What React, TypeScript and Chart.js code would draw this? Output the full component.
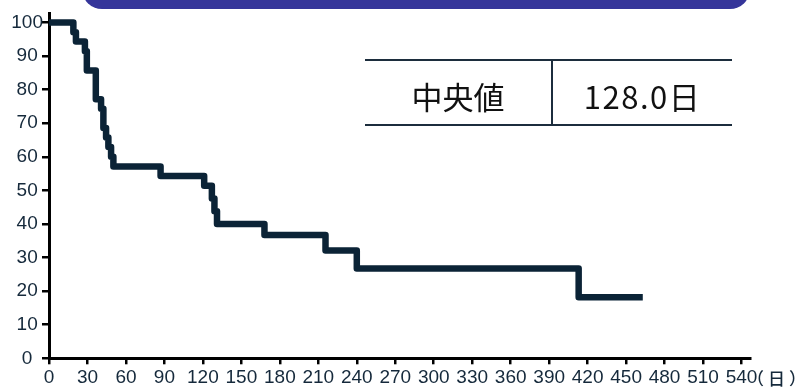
import React, { useEffect, useRef } from "react";
import { Chart, registerables } from "chart.js";

Chart.register(...registerables);

// Kaplan-Meier step data (days, survival %)
const days = [0, 19, 21, 28, 29.5, 36.5, 40.6, 42.4, 44.5, 46.3, 48.4, 50.2, 87, 121, 127, 129, 131, 168, 215.6, 240, 413, 463];
const survival = [100, 97.1, 94.3, 91.4, 85.7, 77.1, 74.3, 68.6, 65.7, 62.9, 60.0, 57.1, 54.3, 51.4, 47.6, 43.8, 40.0, 36.7, 32.1, 26.7, 18.2, 18.2];
const xTicks = [0, 30, 60, 90, 120, 150, 180, 210, 240, 270, 300, 330, 360, 390, 420, 450, 480, 510, 540];
const yTicks = [0, 10, 20, 30, 40, 50, 60, 70, 80, 90, 100];
const xUnit = "（日）";
const medianLabel = "中央値";
const medianValue = "128.0日";

const LINE = "#0b2336";
const TEXT = "#15293b";
const TICK_FONT = { family: "'Liberation Sans Narrow', 'Liberation Sans', sans-serif", size: 19 };

export default function App() {
  const ref = useRef<HTMLCanvasElement | null>(null);

  useEffect(() => {
    if (!ref.current) return;
    const chart = new Chart(ref.current, {
      type: "line",
      data: {
        datasets: [
          {
            data: days.map((d, i) => ({ x: d, y: survival[i] })),
            stepped: "before",
            borderColor: LINE,
            borderWidth: 6.5,
            borderJoinStyle: "round",
            pointRadius: 0,
            fill: false,
          },
        ],
      },
      options: {
        responsive: false,
        animation: false,
        layout: { padding: { top: 13, right: 51, left: 0, bottom: 0 } },
        plugins: { legend: { display: false }, tooltip: { enabled: false } },
        scales: {
          x: {
            type: "linear",
            min: 0,
            max: 546.6,
            afterBuildTicks: (axis: any) => {
              axis.ticks = xTicks.map((v) => ({ value: v }));
            },
            afterFit: (s: any) => {
              s.height = 29.7;
            },
            grid: { display: true, drawOnChartArea: false, drawTicks: true, tickLength: 6, color: "#000", lineWidth: 2.5 },
            border: { display: true, color: "#000", width: 3 },
            ticks: { autoSkip: false, maxRotation: 0, padding: 2, color: TEXT, font: TICK_FONT },
          },
          y: {
            min: 0,
            max: 102.8,
            afterBuildTicks: (axis: any) => {
              axis.ticks = yTicks.map((v) => ({ value: v }));
            },
            afterFit: (s: any) => {
              s.width = 49;
            },
            grid: { display: true, drawOnChartArea: false, drawTicks: true, tickLength: 7, color: "#000", lineWidth: 2.5 },
            border: { display: true, color: "#000", width: 3 },
            ticks: { crossAlign: "center", padding: -1, color: TEXT, font: TICK_FONT },
          },
        },
      },
    });
    return () => chart.destroy();
  }, []);

  const cell: React.CSSProperties = {
    position: "absolute",
    top: 64,
    height: 63,
    display: "flex",
    alignItems: "center",
    justifyContent: "center",
    fontFamily: "'Noto Sans CJK JP', sans-serif",
    fontSize: 31,
    fontWeight: 400,
    color: "#111",
    whiteSpace: "nowrap",
  };

  return (
    <div style={{ position: "fixed", left: 0, top: 0, width: 801, height: 388, overflow: "hidden", background: "#fff" }}>
      <div
        style={{
          position: "absolute",
          left: 82,
          width: 668,
          top: -31,
          height: 40,
          borderRadius: 20,
          background: "#35359a",
        }}
      />
      <canvas ref={ref} width={801} height={388} style={{ position: "absolute", left: 0, top: 0 }} />
      <div
        style={{
          position: "absolute",
          left: 747,
          top: 367,
          fontFamily: "'Noto Sans CJK JP', sans-serif",
          fontSize: 17,
          fontWeight: 500,
          lineHeight: "22px",
          color: TEXT,
          whiteSpace: "nowrap",
          letterSpacing: 4,
        }}
      >
        {xUnit}
      </div>
      <div style={{ position: "absolute", left: 365, top: 59, width: 367, height: 2, background: "#1c2d3d" }} />
      <div style={{ position: "absolute", left: 365, top: 124, width: 367, height: 2, background: "#1c2d3d" }} />
      <div style={{ position: "absolute", left: 551, top: 59, width: 2, height: 67, background: "#1c2d3d" }} />
      <div style={{ ...cell, left: 365, width: 186 }}>{medianLabel}</div>
      <div style={{ ...cell, left: 553, width: 179, letterSpacing: 1.5 }}>{medianValue}</div>
    </div>
  );
}
